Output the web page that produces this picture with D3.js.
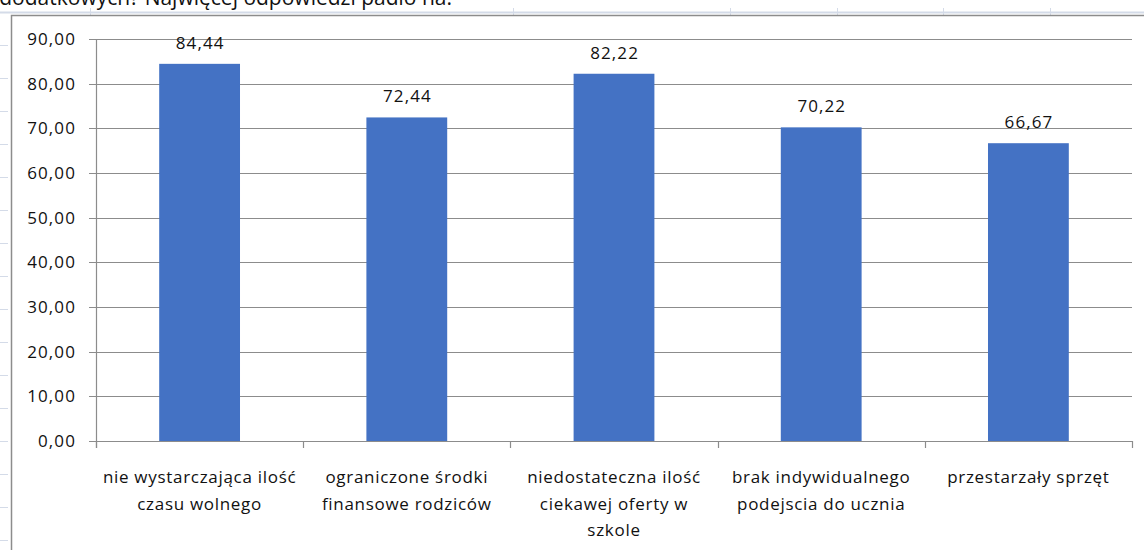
<!DOCTYPE html>
<html>
<head>
<meta charset="utf-8">
<style>
  body { margin: 0; background: #fff; }
  svg { display: block; font-family: "Open Sans", "Noto Sans", sans-serif; }
</style>
</head>
<body>
<div id="chart"></div>
<script src="https://cdnjs.cloudflare.com/ajax/libs/d3/7.8.5/d3.min.js"></script>
<script>
var categories = [
  ["nie wystarczająca  ilość", "czasu wolnego"],
  ["ograniczone środki", "finansowe rodziców"],
  ["niedostateczna ilość", "ciekawej oferty w", "szkole"],
  ["brak indywidualnego", "podejscia do ucznia"],
  ["przestarzały sprzęt"]
];
var values = [84.44, 72.44, 82.22, 70.22, 66.67];
var yTicks = [0, 10, 20, 30, 40, 50, 60, 70, 80, 90];
var heading = "dodatkowych? Najwięcej odpowiedzi padło na:";

var width = 1144, height = 550;
var margin = {left: 96, right: 12, top: 39, bottom: 109};

var svg = d3.select("#chart").append("svg")
  .attr("width", width)
  .attr("height", height);

// heading text of the page, cut off at the top
svg.append("clipPath").attr("id", "topclip")
  .append("rect").attr("x", 0).attr("y", 0).attr("width", width).attr("height", 10);
svg.append("text")
  .attr("clip-path", "url(#topclip)")
  .attr("x", 452).attr("y", 5)
  .attr("text-anchor", "end")
  .attr("font-size", 21)
  .attr("fill", "#111")
  .text(heading);

// sheet gridlines behind the embedded chart
var sheet = svg.append("g");
sheet.append("line")
  .attr("x1", 0).attr("x2", width).attr("y1", 12.5).attr("y2", 12.5)
  .attr("stroke", "#d4dbe8").attr("stroke-width", 2);
[90, 513, 730, 837, 943, 1050].forEach(function(x) {
  sheet.append("line")
    .attr("x1", x + 0.5).attr("x2", x + 0.5).attr("y1", 8).attr("y2", 15)
    .attr("stroke", "#d4dbe8");
});
d3.range(45, height, 33).forEach(function(y) {
  sheet.append("line")
    .attr("x1", 0).attr("x2", 8).attr("y1", y + 0.5).attr("y2", y + 0.5)
    .attr("stroke", "#d4dbe8");
});

// chart frame
svg.append("path")
  .attr("d", "M11.5," + height + "V15.5H" + width)
  .attr("fill", "none")
  .attr("stroke", "#8c8c8c")
  .attr("stroke-width", 1.5);

var x = d3.scaleBand()
  .domain(d3.range(values.length))
  .range([margin.left, width - margin.right])
  .paddingInner(0.61)
  .paddingOuter(0.305);

var y = d3.scaleLinear()
  .domain([0, 90])
  .range([height - margin.bottom, margin.top]);

var fmt = function(d) { return d.toFixed(2).replace(".", ","); };

// gridlines
svg.append("g")
  .selectAll("line")
  .data(yTicks)
  .join("line")
  .attr("x1", margin.left - 7)
  .attr("x2", width - margin.right)
  .attr("y1", function(d) { return Math.round(y(d)) + 0.5; })
  .attr("y2", function(d) { return Math.round(y(d)) + 0.5; })
  .attr("stroke", "#8c8c8c")
  .attr("stroke-width", 1.2);

// y axis line
svg.append("line")
  .attr("x1", margin.left + 0.5).attr("x2", margin.left + 0.5)
  .attr("y1", y(90)).attr("y2", y(0) + 7)
  .attr("stroke", "#8c8c8c").attr("stroke-width", 1.2);

// y tick labels
svg.append("g")
  .selectAll("text")
  .data(yTicks)
  .join("text")
  .attr("x", 76)
  .attr("y", function(d) { return y(d); })
  .attr("dy", "0.36em")
  .attr("text-anchor", "end")
  .attr("font-size", 17)
  .attr("letter-spacing", 1.1)
  .attr("fill", "#111")
  .text(fmt);

// x category boundary ticks
var step = x.step();
svg.append("g")
  .selectAll("line")
  .data(d3.range(values.length + 1))
  .join("line")
  .attr("x1", function(i) { return Math.round(margin.left + i * step) + 0.5; })
  .attr("x2", function(i) { return Math.round(margin.left + i * step) + 0.5; })
  .attr("y1", y(0)).attr("y2", y(0) + 7)
  .attr("stroke", "#8c8c8c").attr("stroke-width", 1.2);

// bars
svg.append("g")
  .selectAll("rect")
  .data(values)
  .join("rect")
  .attr("x", function(d, i) { return x(i); })
  .attr("width", x.bandwidth())
  .attr("y", function(d) { return y(d); })
  .attr("height", function(d) { return y(0) - y(d); })
  .attr("fill", "#4472c4");

// value labels
svg.append("g")
  .selectAll("text")
  .data(values)
  .join("text")
  .attr("x", function(d, i) { return x(i) + x.bandwidth() / 2 + 0.6; })
  .attr("y", function(d) { return y(d) - 15; })
  .attr("text-anchor", "middle")
  .attr("font-size", 17)
  .attr("letter-spacing", 1.1)
  .attr("fill", "#111")
  .text(fmt);

// category labels
var cat = svg.append("g")
  .selectAll("text")
  .data(categories)
  .join("text")
  .attr("text-anchor", "middle")
  .attr("font-size", 17)
  .attr("letter-spacing", 0.7)
  .attr("fill", "#111");
cat.selectAll("tspan")
  .data(function(d, i) { return d.map(function(s) { return {s: s, i: i}; }); })
  .join("tspan")
  .attr("x", function(d) { return x(d.i) + x.bandwidth() / 2; })
  .attr("y", function(d, j) { return 483 + j * 26.5; })
  .text(function(d) { return d.s; });
</script>
</body>
</html>
